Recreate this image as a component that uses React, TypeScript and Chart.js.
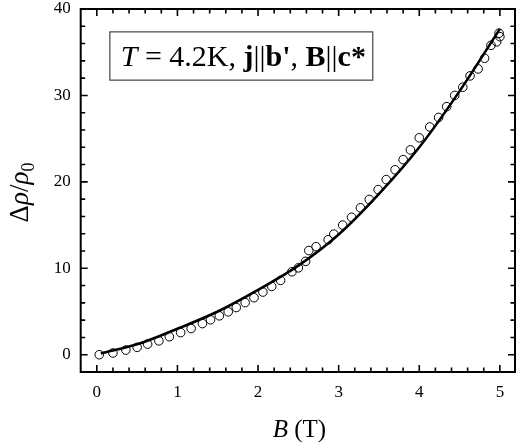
import { useEffect, useRef } from "react";
import { Chart, registerables } from "chart.js";

Chart.register(...registerables);

// Measured magnetoresistance at T = 4.2 K
const fieldB = [
  0.03, 0.2, 0.36, 0.5, 0.63, 0.77, 0.9, 1.04, 1.17, 1.31, 1.41, 1.52, 1.63, 1.73,
  1.84, 1.95, 2.06, 2.17, 2.28, 2.42, 2.5, 2.59, 2.63, 2.72, 2.87, 2.94, 3.05, 3.16,
  3.27, 3.38, 3.49, 3.59, 3.7, 3.8, 3.89, 4.0, 4.13, 4.24, 4.34, 4.44, 4.54, 4.63,
  4.73, 4.81, 4.89, 4.96, 5.0, 4.99,
];
const deltaRho = [
  0.0, 0.2, 0.54, 0.85, 1.23, 1.6, 2.08, 2.56, 3.03, 3.6, 4.04, 4.5, 4.96, 5.46,
  6.03, 6.6, 7.25, 7.9, 8.6, 9.6, 10.05, 10.8, 12.05, 12.5, 13.3, 13.95, 15.0, 15.9,
  17.0, 17.96, 19.1, 20.26, 21.4, 22.57, 23.7, 25.1, 26.35, 27.45, 28.7, 30.0, 30.95, 32.26,
  33.07, 34.3, 35.8, 36.2, 36.8, 37.2,
];

// Fitted curve
const fitB = [0.05, 0.5, 1.0, 1.5, 2.0, 2.5, 3.0, 3.5, 4.0, 4.5, 5.0];
const fitRho = [0.15, 1.2, 3.0, 5.0, 7.5, 10.3, 13.9, 18.6, 24.0, 30.5, 37.7];

const xMajorTicks = [0, 1, 2, 3, 4, 5];
const yMajorTicks = [0, 10, 20, 30, 40];

const SERIF = '"Liberation Serif", "Times New Roman", serif';

type Seg = { t: string; style?: string; weight?: string; sub?: boolean };

const titleSegs: Seg[] = [
  { t: "T", style: "italic" },
  { t: " = 4.2K, " },
  { t: "j", weight: "bold" },
  { t: "||" },
  { t: "b'", weight: "bold" },
  { t: ", " },
  { t: "B", weight: "bold" },
  { t: "||" },
  { t: "c*", weight: "bold" },
];

const yTitleSegs: Seg[] = [
  { t: "Δ" },
  { t: "ρ", style: "italic" },
  { t: "/" },
  { t: "ρ", style: "italic" },
  { t: "0", sub: true },
];

const xTitleSegs: Seg[] = [{ t: "B", style: "italic" }, { t: " (T)" }];

function segFont(s: Seg, size: number) {
  const sz = s.sub ? Math.round(size * 0.68) : size;
  return `${s.style || "normal"} ${s.weight || "normal"} ${sz}px ${SERIF}`;
}

function measureSegs(ctx: CanvasRenderingContext2D, segs: Seg[], size: number) {
  let w = 0;
  for (const s of segs) {
    ctx.font = segFont(s, size);
    w += ctx.measureText(s.t).width;
  }
  return w;
}

function drawSegs(ctx: CanvasRenderingContext2D, segs: Seg[], size: number, x: number, y: number) {
  let cx = x;
  ctx.textAlign = "left";
  ctx.textBaseline = "alphabetic";
  for (const s of segs) {
    ctx.font = segFont(s, size);
    ctx.fillText(s.t, cx, s.sub ? y + size * 0.22 : y);
    cx += ctx.measureText(s.t).width;
  }
}

const framePlugin = {
  id: "frameTicks",
  afterDatasetsDraw(chart: any) {
    const { ctx, chartArea } = chart;
    const { left, right, top, bottom } = chartArea;
    const xs = chart.scales.x;
    const ys = chart.scales.y;
    ctx.save();
    ctx.strokeStyle = "#000";
    ctx.lineWidth = 2;
    ctx.strokeRect(left, top, right - left - 1, bottom - top);

    ctx.lineWidth = 1.6;
    ctx.beginPath();
    for (let i = 0; i <= 25; i++) {
      const px = xs.getPixelForValue(i * 0.2);
      const len = i % 5 === 0 ? 7 : 4.5;
      ctx.moveTo(px, bottom);
      ctx.lineTo(px, bottom - len);
      ctx.moveTo(px, top);
      ctx.lineTo(px, top + len);
    }
    for (let i = 0; i <= 20; i++) {
      const py = ys.getPixelForValue(i * 2);
      if (py < top + 1) continue;
      const len = i % 5 === 0 ? 7 : 4.5;
      ctx.moveTo(left, py);
      ctx.lineTo(left + len, py);
      ctx.moveTo(right - 1, py);
      ctx.lineTo(right - 1 - len, py);
    }
    ctx.stroke();

    // annotation box
    const w = right - left;
    const h = bottom - top;
    const bx0 = left + w * 0.067;
    const bx1 = left + w * 0.671;
    const by0 = top + h * 0.063;
    const by1 = top + h * 0.196;
    ctx.fillStyle = "#fff";
    ctx.fillRect(bx0, by0, bx1 - bx0, by1 - by0);
    ctx.strokeStyle = "#444";
    ctx.lineWidth = 1.2;
    ctx.strokeRect(bx0, by0, bx1 - bx0, by1 - by0);
    const fs = 30;
    const tw = measureSegs(ctx, titleSegs, fs);
    ctx.fillStyle = "#000";
    drawSegs(ctx, titleSegs, fs, (bx0 + bx1) / 2 - tw / 2 + 2, (by0 + by1) / 2 + fs * 0.33);

    // axis titles
    const xfs = 25;
    const xw = measureSegs(ctx, xTitleSegs, xfs);
    drawSegs(ctx, xTitleSegs, xfs, (left + right) / 2 - xw / 2 + 1, 437);

    const yfs = 27;
    const yw = measureSegs(ctx, yTitleSegs, yfs);
    ctx.translate(28, (top + bottom) / 2 + 2);
    ctx.rotate(-Math.PI / 2);
    drawSegs(ctx, yTitleSegs, yfs, -yw / 2, 0);
    ctx.restore();
  },
};

export default function App() {
  const canvasRef = useRef<HTMLCanvasElement>(null);

  useEffect(() => {
    const canvas = canvasRef.current;
    if (!canvas) return;
    const points = fieldB.map((b, i) => ({ x: b, y: deltaRho[i] }));
    const fit = fitB.map((b, i) => ({ x: b, y: fitRho[i] }));
    const chart = new Chart(canvas, {
      type: "scatter",
      data: {
        datasets: [
          {
            label: "fit",
            data: fit,
            showLine: true,
            borderColor: "#000",
            borderWidth: 2.6,
            pointRadius: 0,
            cubicInterpolationMode: "monotone",
          },
          {
            label: "data",
            data: points,
            showLine: false,
            pointStyle: "circle",
            pointRadius: 4.3,
            pointBorderWidth: 1,
            pointBorderColor: "#000",
            pointBackgroundColor: "rgba(0,0,0,0)",
          },
        ],
      },
      options: {
        responsive: false,
        animation: false,
        layout: { autoPadding: false, padding: { top: 9, right: 0, left: 0, bottom: 0 } },
        plugins: { legend: { display: false }, tooltip: { enabled: false } },
        scales: {
          x: {
            type: "linear",
            min: -0.2,
            max: 5.2,
            grid: { display: false },
            border: { display: false },
            afterFit: (s: any) => {
              s.height = 76;
              s.paddingLeft = 0;
              s.paddingRight = 0;
            },
            afterBuildTicks: (s: any) => {
              s.ticks = xMajorTicks.map((v) => ({ value: v }));
            },
            ticks: {
              padding: 2,
              color: "#000",
              font: { family: SERIF, size: 17 },
              callback: (v: any) => String(v),
            },
          },
          y: {
            type: "linear",
            min: -2,
            max: 40,
            grid: { display: false },
            border: { display: false },
            afterFit: (s: any) => {
              s.width = 80.7;
              s.paddingTop = 0;
              s.paddingBottom = 0;
            },
            afterBuildTicks: (s: any) => {
              s.ticks = yMajorTicks.map((v) => ({ value: v }));
            },
            ticks: {
              padding: 2,
              color: "#000",
              font: { family: SERIF, size: 17 },
              callback: (v: any) => String(v),
            },
          },
        },
      },
      plugins: [framePlugin],
    });
    return () => chart.destroy();
  }, []);

  return (
    <div style={{ position: "fixed", left: 0, top: 0, width: 516, height: 448, background: "#fff" }}>
      <canvas ref={canvasRef} width={516} height={448} style={{ display: "block" }} />
    </div>
  );
}
